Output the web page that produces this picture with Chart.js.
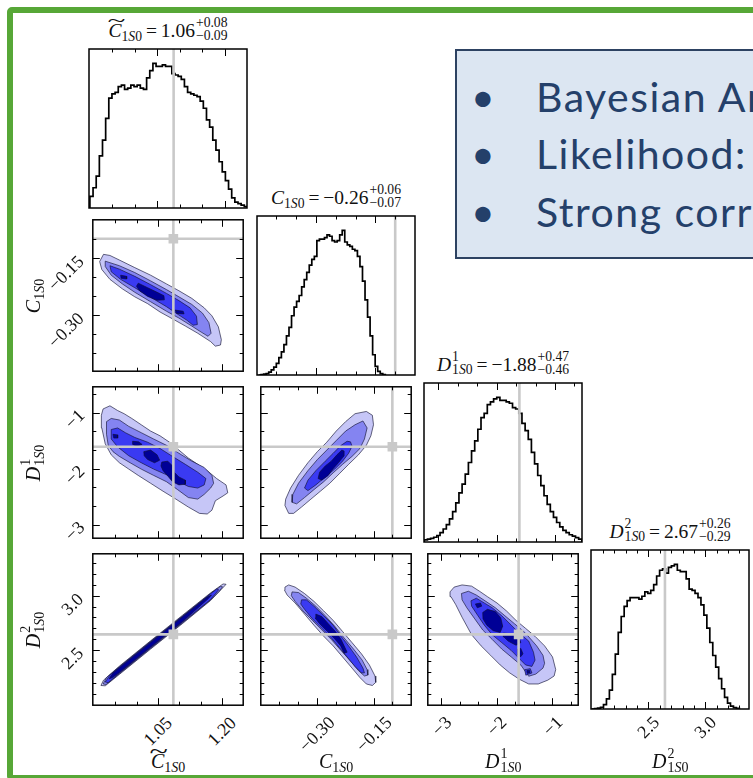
<!DOCTYPE html>
<html><head><meta charset="utf-8"><title>Corner plot</title>
<script src="https://cdn.jsdelivr.net/npm/chart.js@4.4.1/dist/chart.umd.min.js"></script>
<style>
html,body{margin:0;padding:0;background:#fff;}
#root{position:relative;width:753px;height:778px;overflow:hidden;background:#fff;}
#frame{position:absolute;left:7px;top:7px;width:780px;height:774px;border:6px solid #57a737;border-radius:5px;box-sizing:border-box;}
canvas.p{position:absolute;}
.m{position:absolute;font-family:'Liberation Serif','DejaVu Serif',serif;white-space:nowrap;color:#111;line-height:1;}
.tw{position:relative;display:inline-block;}
.tl{position:absolute;left:0;right:-2px;top:-0.52em;text-align:center;font-style:normal;transform:scaleX(1.7);}
.sb{position:relative;top:0.3em;font-size:0.7em;}
.st{display:inline-block;position:relative;font-size:0.7em;line-height:1;margin-left:1px;}
.st .dn{position:relative;top:0.25em;}
.st .up{position:absolute;left:0;top:-0.7em;}
#tb{position:absolute;left:455px;top:49px;width:420px;height:210px;box-sizing:border-box;border:2px solid #2d4262;background:#dce6f2;}
.bl{position:absolute;font-family:Lato,'Open Sans',sans-serif;font-size:41px;line-height:41px;letter-spacing:1.5px;color:#24406a;white-space:nowrap;}
</style></head>
<body>
<div id="root">
  <div id="frame"></div>
  <div id="tb"></div>
</div>
<script>
// ---------------- data ----------------
const paramNames = ['Ct', 'C', 'D1', 'D2'];
const axisMin = [0.898, -0.449, -3.245, 1.994];
const axisMax = [1.249, -0.050, -0.537, 3.385];
const truths = [1.086, -0.100, -1.61, 2.645];
const majorTicks = [[1.05, 1.20], [-0.30, -0.15], [-3, -2, -1], [2.5, 3.0]];
const minorTicks = [[0.95, 1.00, 1.10, 1.15], [-0.40, -0.35, -0.25, -0.20, -0.10],
  [-2.6667, -2.3333, -1.6667, -1.3333, -0.6667], [2.1, 2.2, 2.3, 2.4, 2.6, 2.7, 2.8, 2.9, 3.1, 3.2, 3.3]];
const tickLabels = [['1.05', '1.20'], ['\u22120.30', '\u22120.15'], ['\u22123', '\u22122', '\u22121'], ['2.5', '3.0']];

const histMax = 110;
const hist1Start = 0.900, hist1Width = 0.007;
const hist1 = [8,14,22,36,47,62,76,79,80,84,85,82,83,85,84,85,83,82,90,95,100,98,98,99,98,98,93,92,91,89,84,80,79,78,77,74,69,61,56,47,40,32,25,19,13,7,4,3,2,1];
const hist2Start = -0.445, hist2Width = 0.0064;
const hist2 = [0,0.3,0.6,1,2,3.5,5.5,8,12,16,21,27,33,41,47,51,55,61,66,71,76,80,82,93,94,94,95,97,96,93,92,93,97,100,92,90,89,87,86,82,75,65,52,40,27,14,6,2.5,1,0.3];
const hist3Start = -3.240, hist3Width = 0.054;
const hist3 = [1.5,2,2.5,3.3,4.5,6.5,9,12,16,21,27,34,40,47,55,63,70,78,86,89,95,97,99,100,98,98,97,96,93,92,89,82,77,71,62,54,46,39,32,26,21,17,13.5,10.5,8,6.5,5,4,3,2];
const hist4Start = 2.000, hist4Width = 0.026;
const hist4 = [0,0.3,0.6,1.2,3,7,13,24,38,53,64,71,75,77,77,77,76,78,81,80,82,86,92,96,97,94,98,99,100,96,95,95,90,83,82,80,77,72,65,56,46,37,29,21,14,8,4,2,1,0.5];

// contour polygons [x, y] in data units (outer -> inner levels)
const p21_L1 = [[0.923,-0.141],[0.938,-0.144],[0.960,-0.156],[0.996,-0.176],[1.033,-0.196],[1.070,-0.219],[1.099,-0.237],[1.129,-0.257],[1.158,-0.282],[1.176,-0.303],[1.191,-0.332],[1.198,-0.366],[1.196,-0.380],[1.184,-0.383],[1.173,-0.371],[1.143,-0.349],[1.114,-0.330],[1.084,-0.311],[1.055,-0.293],[1.026,-0.271],[0.996,-0.253],[0.967,-0.232],[0.938,-0.207],[0.919,-0.181],[0.914,-0.160]];
const p21_L2 = [[0.927,-0.159],[0.960,-0.171],[0.996,-0.189],[1.033,-0.211],[1.070,-0.234],[1.099,-0.253],[1.129,-0.273],[1.154,-0.296],[1.169,-0.321],[1.174,-0.349],[1.167,-0.357],[1.151,-0.346],[1.129,-0.330],[1.099,-0.309],[1.070,-0.291],[1.033,-0.266],[0.996,-0.241],[0.967,-0.219],[0.941,-0.196],[0.927,-0.173]];
const p21_L3 = [[0.938,-0.171],[0.960,-0.180],[0.996,-0.199],[1.033,-0.221],[1.070,-0.244],[1.099,-0.263],[1.125,-0.282],[1.140,-0.304],[1.142,-0.326],[1.132,-0.328],[1.118,-0.315],[1.099,-0.301],[1.070,-0.279],[1.033,-0.254],[0.996,-0.229],[0.963,-0.207],[0.941,-0.187]];
const p21_L4a = [[0.963,-0.196],[0.977,-0.199],[0.977,-0.206],[0.964,-0.204]];
const p21_L4b = [[1.004,-0.217],[1.026,-0.229],[1.048,-0.241],[1.064,-0.250],[1.065,-0.261],[1.048,-0.262],[1.026,-0.252],[1.007,-0.237],[1.000,-0.225]];
const p21_L4c = [[1.090,-0.288],[1.109,-0.291],[1.111,-0.298],[1.094,-0.297]];

const p31_L1 = [[0.922,-0.933],[0.938,-0.877],[0.956,-0.962],[0.971,-1.018],[0.989,-1.103],[1.011,-1.216],[1.033,-1.329],[1.055,-1.414],[1.077,-1.528],[1.099,-1.669],[1.121,-1.811],[1.143,-1.924],[1.165,-2.037],[1.187,-2.178],[1.209,-2.292],[1.213,-2.433],[1.202,-2.490],[1.184,-2.575],[1.176,-2.744],[1.165,-2.812],[1.147,-2.801],[1.121,-2.688],[1.092,-2.546],[1.062,-2.405],[1.033,-2.263],[1.004,-2.122],[0.982,-2.009],[0.960,-1.895],[0.941,-1.754],[0.927,-1.556],[0.919,-1.273],[0.918,-1.046]];
const p31_L2 = [[0.930,-1.160],[0.941,-1.103],[0.960,-1.131],[0.982,-1.245],[1.011,-1.358],[1.040,-1.471],[1.070,-1.584],[1.099,-1.726],[1.129,-1.867],[1.158,-1.980],[1.176,-2.122],[1.180,-2.263],[1.173,-2.348],[1.158,-2.461],[1.143,-2.546],[1.121,-2.518],[1.096,-2.377],[1.070,-2.235],[1.040,-2.122],[1.011,-2.009],[0.985,-1.895],[0.960,-1.782],[0.945,-1.697],[0.934,-1.584],[0.930,-1.386]];
const p31_L3 = [[0.941,-1.301],[0.956,-1.273],[0.974,-1.358],[0.996,-1.443],[1.026,-1.528],[1.055,-1.641],[1.084,-1.782],[1.114,-1.924],[1.143,-2.065],[1.162,-2.178],[1.158,-2.292],[1.143,-2.348],[1.121,-2.320],[1.099,-2.235],[1.070,-2.110],[1.040,-2.009],[1.011,-1.895],[0.982,-1.771],[0.956,-1.612],[0.941,-1.471]];
const p31_L4a = [[0.945,-1.386],[0.956,-1.397],[0.956,-1.454],[0.947,-1.454]];
const p31_L4b = [[0.991,-1.511],[1.005,-1.522],[1.013,-1.567],[1.000,-1.601],[0.991,-1.567]];
const p31_L4c = [[1.017,-1.697],[1.033,-1.669],[1.048,-1.754],[1.054,-1.850],[1.042,-1.895],[1.026,-1.839],[1.018,-1.771]];
const p31_L4d = [[1.059,-1.884],[1.073,-1.867],[1.084,-1.952],[1.088,-2.065],[1.099,-2.150],[1.114,-2.207],[1.114,-2.280],[1.099,-2.292],[1.084,-2.235],[1.073,-2.133],[1.062,-2.037],[1.057,-1.952]];

const p41_L1 = [[0.917,2.175],[0.923,2.224],[0.960,2.353],[1.033,2.586],[1.107,2.819],[1.173,3.026],[1.202,3.108],[1.209,3.105],[1.203,3.079],[1.173,2.956],[1.107,2.743],[1.033,2.510],[0.960,2.277],[0.927,2.172]];
const p41_L2 = [[0.922,2.189],[0.930,2.248],[0.960,2.347],[1.033,2.580],[1.107,2.813],[1.173,3.020],[1.196,3.085],[1.201,3.082],[1.193,3.041],[1.173,2.962],[1.107,2.749],[1.033,2.516],[0.960,2.283],[0.929,2.184]];
const p41_L3 = [[0.927,2.207],[0.938,2.271],[0.960,2.344],[1.033,2.577],[1.107,2.808],[1.173,3.018],[1.187,3.061],[1.192,3.055],[1.184,3.018],[1.173,2.965],[1.107,2.755],[1.033,2.522],[0.960,2.289],[0.934,2.201]];
const p41_L4 = [[0.936,2.236],[0.945,2.289],[0.960,2.338],[1.033,2.571],[1.107,2.805],[1.165,2.988],[1.175,3.006],[1.167,2.971],[1.107,2.761],[1.033,2.528],[0.960,2.294],[0.944,2.248]];

const p32_L1 = [[-0.169,-0.978],[-0.199,-1.018],[-0.224,-1.160],[-0.249,-1.329],[-0.274,-1.528],[-0.299,-1.697],[-0.324,-1.895],[-0.349,-2.122],[-0.370,-2.348],[-0.383,-2.546],[-0.385,-2.659],[-0.375,-2.801],[-0.362,-2.801],[-0.341,-2.688],[-0.316,-2.546],[-0.291,-2.405],[-0.266,-2.263],[-0.241,-2.094],[-0.216,-1.924],[-0.190,-1.754],[-0.169,-1.584],[-0.157,-1.414],[-0.150,-1.216],[-0.153,-1.046]];
const p32_L2 = [[-0.178,-1.148],[-0.199,-1.216],[-0.224,-1.329],[-0.249,-1.499],[-0.274,-1.669],[-0.299,-1.839],[-0.324,-2.037],[-0.349,-2.263],[-0.364,-2.461],[-0.366,-2.603],[-0.354,-2.631],[-0.333,-2.518],[-0.308,-2.377],[-0.282,-2.235],[-0.257,-2.076],[-0.232,-1.924],[-0.207,-1.782],[-0.186,-1.641],[-0.174,-1.471],[-0.167,-1.273]];
const p32_L3 = [[-0.220,-1.511],[-0.236,-1.584],[-0.257,-1.726],[-0.278,-1.867],[-0.303,-2.037],[-0.324,-2.207],[-0.333,-2.348],[-0.324,-2.394],[-0.303,-2.292],[-0.278,-2.150],[-0.253,-2.009],[-0.232,-1.867],[-0.216,-1.726],[-0.207,-1.601],[-0.211,-1.522]];
const p32_L4 = [[-0.234,-1.669],[-0.247,-1.754],[-0.262,-1.867],[-0.278,-1.952],[-0.293,-2.065],[-0.297,-2.178],[-0.287,-2.207],[-0.270,-2.122],[-0.258,-2.009],[-0.243,-1.895],[-0.228,-1.771],[-0.228,-1.686]];

const p42_L1 = [[-0.385,3.079],[-0.375,3.099],[-0.358,3.079],[-0.333,3.020],[-0.308,2.948],[-0.282,2.860],[-0.257,2.773],[-0.232,2.671],[-0.207,2.569],[-0.182,2.466],[-0.161,2.364],[-0.146,2.262],[-0.144,2.204],[-0.153,2.175],[-0.169,2.189],[-0.186,2.248],[-0.207,2.335],[-0.232,2.437],[-0.257,2.539],[-0.282,2.627],[-0.308,2.729],[-0.333,2.831],[-0.358,2.933],[-0.379,3.006],[-0.386,3.050]];
const p42_L2 = [[-0.366,3.035],[-0.349,3.029],[-0.328,2.977],[-0.303,2.904],[-0.278,2.816],[-0.253,2.720],[-0.228,2.612],[-0.203,2.510],[-0.180,2.408],[-0.167,2.321],[-0.165,2.271],[-0.174,2.262],[-0.190,2.312],[-0.211,2.399],[-0.236,2.496],[-0.262,2.598],[-0.287,2.685],[-0.312,2.773],[-0.337,2.860],[-0.358,2.948],[-0.368,3.000]];
const p42_L3 = [[-0.341,2.962],[-0.328,2.962],[-0.308,2.904],[-0.282,2.816],[-0.257,2.729],[-0.236,2.627],[-0.216,2.539],[-0.195,2.437],[-0.178,2.335],[-0.174,2.291],[-0.182,2.291],[-0.199,2.350],[-0.220,2.437],[-0.241,2.525],[-0.262,2.612],[-0.287,2.700],[-0.312,2.787],[-0.333,2.875],[-0.343,2.924]];
const p42_L4 = [[-0.303,2.831],[-0.287,2.808],[-0.270,2.743],[-0.251,2.671],[-0.236,2.598],[-0.224,2.510],[-0.220,2.481],[-0.228,2.472],[-0.237,2.539],[-0.253,2.604],[-0.272,2.671],[-0.293,2.743],[-0.305,2.796]];

const p43_L1 = [[-2.845,3.035],[-2.771,3.079],[-2.628,3.099],[-2.456,3.088],[-2.314,3.041],[-2.171,2.991],[-1.999,2.933],[-1.828,2.860],[-1.656,2.773],[-1.485,2.700],[-1.314,2.627],[-1.142,2.539],[-0.999,2.437],[-0.942,2.321],[-0.971,2.262],[-1.085,2.224],[-1.257,2.189],[-1.428,2.189],[-1.599,2.233],[-1.771,2.291],[-1.942,2.364],[-2.114,2.452],[-2.285,2.539],[-2.456,2.641],[-2.628,2.802],[-2.742,2.918],[-2.828,2.991]];
const p43_L2 = [[-2.639,3.020],[-2.514,3.041],[-2.371,3.006],[-2.199,2.948],[-2.028,2.889],[-1.857,2.816],[-1.685,2.743],[-1.485,2.656],[-1.285,2.539],[-1.171,2.452],[-1.142,2.379],[-1.171,2.335],[-1.300,2.280],[-1.428,2.260],[-1.571,2.364],[-1.742,2.437],[-1.914,2.510],[-2.085,2.598],[-2.256,2.685],[-2.399,2.787],[-2.542,2.889],[-2.628,2.962]];
const p43_L3 = [[-2.468,2.953],[-2.371,2.977],[-2.228,2.933],[-2.085,2.889],[-1.914,2.816],[-1.742,2.729],[-1.599,2.656],[-1.428,2.583],[-1.342,2.481],[-1.314,2.408],[-1.371,2.350],[-1.485,2.364],[-1.599,2.423],[-1.742,2.496],[-1.914,2.569],[-2.085,2.641],[-2.228,2.729],[-2.342,2.816],[-2.456,2.904]];
const p43_L3b = [[-1.500,2.320],[-1.400,2.330],[-1.370,2.290],[-1.480,2.270]];
const p43_L4a = [[-2.388,2.924],[-2.296,2.933],[-2.274,2.904],[-2.354,2.889]];
const p43_L4b = [[-2.256,2.846],[-2.171,2.875],[-2.028,2.854],[-1.931,2.796],[-1.897,2.720],[-1.942,2.662],[-2.068,2.679],[-2.182,2.729],[-2.251,2.787]];
const p43_L4c = [[-1.885,2.656],[-1.742,2.650],[-1.599,2.612],[-1.571,2.569],[-1.656,2.545],[-1.799,2.583],[-1.874,2.621]];
const p43_L4d = [[-1.628,2.510],[-1.571,2.516],[-1.531,2.466],[-1.571,2.440],[-1.622,2.455]];
const p43_L4e = [[-1.462,2.312],[-1.412,2.316],[-1.404,2.292],[-1.455,2.286]];

// ---------------- layout / style ----------------
const COLX = [89, 257, 424, 591], ROWY = [49, 216, 383, 550], PW = 158, PH = 159, PAD = 3;
const LEVEL_COLORS = ['#c6c6f7', '#8484f1', '#3a3af2', '#000096'];
const TRUTH_COLOR = '#c9c9c9';
const FS_TICK = 18, FS_TITLE = 19.5, FS_LABEL = 20;
const root = document.getElementById('root');

function closedPts(arr) { const a = arr.map(p => ({x: p[0], y: p[1]})); a.push({x: arr[0][0], y: arr[0][1]}); return a; }

function contourSets(levels) {
  const ds = [];
  levels.forEach((polys, li) => polys.forEach(poly => ds.push({
    data: closedPts(poly), fill: 'shape', backgroundColor: LEVEL_COLORS[li],
    borderColor: 'rgba(15,15,50,0.9)', borderWidth: 0.7, pointRadius: 0, order: 20 - li
  })));
  return ds;
}

function histSet(start, width, vals) {
  const d = [{x: start, y: 0}];
  vals.forEach((v, i) => d.push({x: start + i * width, y: v}));
  d.push({x: start + vals.length * width, y: vals[vals.length - 1]});
  d.push({x: start + vals.length * width, y: 0});
  return {data: d, stepped: 'before', borderColor: '#000', borderWidth: 1.7, pointRadius: 0, fill: false, order: 5};
}

function truthSets(col, row, diag) {
  const ds = [];
  const tx = truths[col];
  const yLo = diag ? 0 : axisMin[row], yHi = diag ? histMax : axisMax[row];
  ds.push({data: [{x: tx, y: yLo}, {x: tx, y: yHi}], borderColor: TRUTH_COLOR, borderWidth: 2.6, pointRadius: 0, fill: false, order: 3});
  if (!diag) {
    const ty = truths[row];
    ds.push({data: [{x: axisMin[col], y: ty}, {x: axisMax[col], y: ty}], borderColor: TRUTH_COLOR, borderWidth: 2.6, pointRadius: 0, fill: false, order: 3});
    ds.push({data: [{x: tx, y: ty}], showLine: false, pointStyle: 'rect', pointRadius: 6.8, pointHoverRadius: 6.8,
      backgroundColor: TRUTH_COLOR, pointBackgroundColor: TRUTH_COLOR, pointBorderWidth: 0, borderWidth: 0, order: 2});
  }
  return ds;
}

function framePlugin(col, row) {
  return {
    id: 'cornerFrame',
    afterDraw(chart) {
      const ctx = chart.ctx, a = chart.chartArea, xs = chart.scales.x, ys = chart.scales.y;
      ctx.save();
      ctx.strokeStyle = '#000';
      ctx.lineWidth = 1;
      const xt = (vals, len) => vals.forEach(v => {
        const px = Math.round(xs.getPixelForValue(v)) + 0.5;
        ctx.beginPath(); ctx.moveTo(px, a.bottom); ctx.lineTo(px, a.bottom - len);
        ctx.moveTo(px, a.top); ctx.lineTo(px, a.top + len); ctx.stroke();
      });
      const yt = (vals, len) => vals.forEach(v => {
        const py = Math.round(ys.getPixelForValue(v)) + 0.5;
        ctx.beginPath(); ctx.moveTo(a.left, py); ctx.lineTo(a.left + len, py);
        ctx.moveTo(a.right, py); ctx.lineTo(a.right - len, py); ctx.stroke();
      });
      xt(majorTicks[col], 7); xt(minorTicks[col], 3.5);
      if (row !== null) { yt(majorTicks[row], 7); yt(minorTicks[row], 3.5); }
      ctx.lineWidth = 1.5;
      ctx.strokeRect(a.left, a.top, a.right - a.left, a.bottom - a.top);
      ctx.restore();
    }
  };
}

const charts = {};
function panel(col, row, datasets, diag) {
  const cv = document.createElement('canvas');
  cv.className = 'p';
  cv.width = PW + 2 * PAD; cv.height = PH + 2 * PAD;
  cv.style.width = cv.width + 'px'; cv.style.height = cv.height + 'px';
  cv.style.left = (COLX[col] - PAD) + 'px'; cv.style.top = (ROWY[row] - PAD) + 'px';
  root.appendChild(cv);
  const ch = new Chart(cv, {
    type: 'line',
    data: {datasets},
    options: {
      responsive: false, animation: false, devicePixelRatio: 1,
      layout: {padding: PAD},
      scales: {
        x: {type: 'linear', min: axisMin[col], max: axisMax[col], display: false},
        y: {type: 'linear', min: diag ? 0 : axisMin[row], max: diag ? histMax : axisMax[row], display: false}
      },
      plugins: {legend: {display: false}, tooltip: {enabled: false}},
      elements: {line: {tension: 0}, point: {radius: 0}}
    },
    plugins: [framePlugin(col, diag ? null : row)]
  });
  charts[row + '_' + col] = {chart: ch, left: COLX[col] - PAD, top: ROWY[row] - PAD};
  return ch;
}

// diagonal
panel(0, 0, [histSet(hist1Start, hist1Width, hist1), ...truthSets(0, 0, true)], true);
panel(1, 1, [histSet(hist2Start, hist2Width, hist2), ...truthSets(1, 1, true)], true);
panel(2, 2, [histSet(hist3Start, hist3Width, hist3), ...truthSets(2, 2, true)], true);
panel(3, 3, [histSet(hist4Start, hist4Width, hist4), ...truthSets(3, 3, true)], true);
// 2D
panel(0, 1, [...contourSets([[p21_L1], [p21_L2], [p21_L3], [p21_L4a, p21_L4b, p21_L4c]]), ...truthSets(0, 1, false)], false);
panel(0, 2, [...contourSets([[p31_L1], [p31_L2], [p31_L3], [p31_L4a, p31_L4b, p31_L4c, p31_L4d]]), ...truthSets(0, 2, false)], false);
panel(0, 3, [...contourSets([[p41_L1], [p41_L2], [p41_L3], [p41_L4]]), ...truthSets(0, 3, false)], false);
panel(1, 2, [...contourSets([[p32_L1], [p32_L2], [p32_L3], [p32_L4]]), ...truthSets(1, 2, false)], false);
panel(1, 3, [...contourSets([[p42_L1], [p42_L2], [p42_L3], [p42_L4]]), ...truthSets(1, 3, false)], false);
panel(2, 3, [...contourSets([[p43_L1], [p43_L2], [p43_L3, p43_L3b], [p43_L4a, p43_L4b, p43_L4c, p43_L4d, p43_L4e]]), ...truthSets(2, 3, false)], false);

// ---------------- text ----------------
function addText(html, fs) {
  const d = document.createElement('div');
  d.className = 'm'; d.style.fontSize = fs + 'px'; d.innerHTML = html;
  d.style.left = '0px'; d.style.top = '0px';
  root.appendChild(d);
  return d;
}
function placeCenter(el, cx, cy, rot) {
  const w = el.offsetWidth, h = el.offsetHeight;
  el.style.left = (cx - w / 2) + 'px'; el.style.top = (cy - h / 2) + 'px';
  if (rot) el.style.transform = 'rotate(' + rot + 'deg)';
}
const SUB = '<span class="sb">1<i>S</i>0</span>';
const symHTML = [
  '<span class="tw"><i>C</i><span class="tl">~</span></span>' + SUB,
  '<i>C</i>' + SUB,
  '<i>D</i><span class="st"><span class="dn">1<i>S</i>0</span><span class="up">1</span></span>',
  '<i>D</i><span class="st"><span class="dn">1<i>S</i>0</span><span class="up">2</span></span>'
];
const medians = ['1.06', '\u22120.26', '\u22121.88', '2.67'];
const errPlus = ['+0.08', '+0.06', '+0.47', '+0.26'];
const errMinus = ['\u22120.09', '\u22120.07', '\u22120.46', '\u22120.29'];

// titles above diagonal panels
for (let i = 0; i < 4; i++) {
  const html = symHTML[i] + '&#8201;=&#8201;' + medians[i] + '<span class="st"><span class="dn">' + errMinus[i] + '</span><span class="up">' + errPlus[i] + '</span></span>';
  const el = addText(html, FS_TITLE);
  const cx = COLX[i] + PW / 2;
  placeCenter(el, cx, ROWY[i] - 18, 0);
}
// x tick labels (bottom row) and axis labels
for (let c = 0; c < 4; c++) {
  const info = charts['3_' + c];
  const xs = info.chart.scales.x;
  majorTicks[c].forEach((v, k) => {
    const el = addText(tickLabels[c][k], FS_TICK);
    const L = el.offsetWidth;
    const px = info.left + xs.getPixelForValue(v);
    const cy = ROWY[3] + PH + 6 + 0.354 * (L + 0.68 * FS_TICK);
    placeCenter(el, px, cy, -45);
  });
  const lab = addText(symHTML[c], FS_LABEL);
  placeCenter(lab, COLX[c] + PW / 2, 761, 0);
}
// y tick labels (left column) and axis labels
for (let r = 1; r < 4; r++) {
  const info = charts[r + '_0'];
  const ys = info.chart.scales.y;
  majorTicks[r].forEach((v, k) => {
    const el = addText(tickLabels[r][k], FS_TICK);
    const L = el.offsetWidth;
    const py = info.top + ys.getPixelForValue(v);
    const cx = COLX[0] - 8 - 0.354 * L;
    const cy = py + 0.354 * L;
    placeCenter(el, cx, cy, -45);
  });
  const lab = addText(symHTML[r], FS_LABEL);
  placeCenter(lab, 33, ROWY[r] + PH / 2, -90);
}

// ---------------- text box ----------------
const boxLines = ['Bayesian Analysis', 'Likelihood:', 'Strong correlations'];
const boxBaselines = [112, 169, 227];
boxLines.forEach((t, i) => {
  const b = document.createElement('div'); b.className = 'bl'; b.textContent = '\u2022';
  b.style.left = '471px'; b.style.top = (boxBaselines[i] - 36) + 'px'; root.appendChild(b);
  const d = document.createElement('div'); d.className = 'bl'; d.textContent = t;
  d.style.left = '536px'; d.style.top = (boxBaselines[i] - 36) + 'px'; root.appendChild(d);
});
</script>
</body></html>
